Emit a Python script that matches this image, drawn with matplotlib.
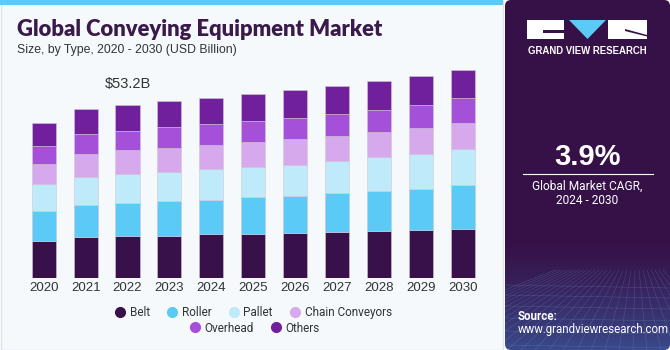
import numpy as np
import matplotlib
matplotlib.use("Agg")
from matplotlib import pyplot as plt
from matplotlib.patches import Rectangle, FancyBboxPatch, Polygon
from matplotlib.lines import Line2D

# data (USD Billion)
years = ['2020', '2021', '2022', '2023', '2024', '2025', '2026', '2027', '2028', '2029', '2030']
belt = [11.5, 12.8, 13.1, 13.1, 13.6, 13.6, 13.9, 14.2, 14.6, 14.8, 15.1]
roller = [9.3, 9.7, 10.1, 10.7, 10.5, 11.4, 11.5, 12.1, 12.2, 12.6, 13.5]
pallet = [8.0, 8.7, 8.8, 8.8, 9.4, 9.2, 9.5, 9.7, 10.4, 10.7, 11.0]
chain = [6.3, 7.1, 7.4, 7.3, 7.4, 7.6, 7.8, 7.7, 7.7, 7.9, 8.1]
overhead = [5.5, 6.1, 5.9, 6.5, 6.5, 6.5, 6.6, 6.8, 6.8, 7.2, 7.7]
others = [7.1, 7.6, 7.9, 7.9, 7.8, 8.2, 8.5, 8.5, 8.9, 8.8, 8.7]
series_names = ['Belt', 'Roller', 'Pallet', 'Chain Conveyors', 'Overhead', 'Others']
colors = ['#38104a', '#5ccaf6', '#bfeafa', '#d6a9ed', '#a550d8', '#70209c']
note_text = '$53.2B'
note_year = 2

fig = plt.figure(figsize=(6.7, 3.5), dpi=100)
fig.patch.set_facecolor('white')

# left panel background + top strip
bg = fig.add_axes([0, 0, 1, 1])
bg.set_xlim(0, 670)
bg.set_ylim(350, 0)
bg.axis('off')
bg.add_patch(Rectangle((0.5, 0.5), 502, 349, facecolor='#f5f9fc', edgecolor='#dde3ea', lw=1))
bg.add_patch(Rectangle((0, 0), 503, 5, facecolor='#5ccaf6', edgecolor='none'))

# main chart
ax = fig.add_axes([18.6 / 670, 0.2049, 469.2 / 670, 228 / 350])
ax.set_facecolor('none')
x = np.arange(len(years))
stack = [belt, roller, pallet, chain, overhead, others]
bottom = np.zeros(len(years))
for vals, name, c in zip(stack, series_names, colors):
    ax.bar(x, vals, width=0.575, bottom=bottom, color=c, label=name,
           edgecolor='#cfc6d8', linewidth=0.4)
    bottom += np.array(vals)
ax.text(x[note_year], bottom[note_year] + 4.2, note_text, ha='center', va='bottom',
        fontsize=10.5, color='#333333', family='Liberation Sans')
ax.set_xlim(-0.6, 10.6)
ax.set_ylim(0, 70)
ax.set_xticks(x)
ax.set_xticklabels(years, fontsize=9.5, color='#333333', family='Liberation Sans')
ax.tick_params(axis='x', length=0, pad=3)
ax.set_yticks([])
for s in ax.spines.values():
    s.set_visible(False)

# titles
fig.text(17 / 670, 1 - 29 / 350, 'Global Conveying Equipment Market', fontsize=15.8,
         fontweight='heavy', color='#3a1a4a', family='Lato', va='center')
fig.text(17 / 670, 1 - 50 / 350, 'Size, by Type, 2020 - 2030 (USD Billion)', fontsize=8.8,
         color='#333333', family='Liberation Sans', va='center')

# legend, two centred rows
handles = [Line2D([], [], marker='o', ls='none', color=c, markersize=7) for c in colors]
lprop = {'family': 'Roboto', 'size': 8.5}
leg1 = fig.legend(handles[:4], series_names[:4], loc='center', ncol=4,
                  bbox_to_anchor=(252 / 670, 1 - 312.5 / 350), frameon=False,
                  handletextpad=0.1, columnspacing=1.2, handlelength=1.4, prop=lprop)
leg2 = fig.legend(handles[4:], series_names[4:], loc='center', ncol=2,
                  bbox_to_anchor=(253 / 670, 1 - 328 / 350), frameon=False,
                  handletextpad=0.1, columnspacing=1.2, handlelength=1.4, prop=lprop)
for lg in (leg1, leg2):
    for t in lg.get_texts():
        t.set_color('#333333')

# right panel
rp = fig.add_axes([505 / 670, 0, 165 / 670, 1])
rp.set_xlim(0, 165)
rp.set_ylim(350, 0)
rp.axis('off')
grad = np.ones((350, 1, 3))
top_c = np.array([0x36, 0x11, 0x47]) / 255
bot_c = np.array([0x3a, 0x4a, 0x8c]) / 255
for i in range(350):
    t = max(0, (i - 240) / 110) ** 1.3
    grad[i, 0] = top_c * (1 - t) + bot_c * t
img = rp.imshow(grad, extent=(0, 165, 350, 0), aspect='auto', zorder=0)
clip = FancyBboxPatch((0, 0), 165, 350, boxstyle='round,pad=0,rounding_size=6',
                      transform=rp.transData, facecolor='none', edgecolor='none')
rp.add_patch(clip)
img.set_clip_path(clip)
# faint mesh at the bottom
for k in range(-8, 20):
    ln, = rp.plot([82 + k * 4, k * 14 - 40], [270, 350], color='#7fb6e6', lw=0.4, alpha=0.25)
    ln.set_clip_path(clip)
for yy in [285, 295, 306, 318, 331, 345]:
    ln, = rp.plot([0, 165], [yy, yy + 3], color='#7fb6e6', lw=0.4, alpha=0.25)
    ln.set_clip_path(clip)

# logo
rp.add_patch(Rectangle((22, 20), 36.5, 19, facecolor='white', edgecolor='none'))
rp.add_patch(Rectangle((38, 30), 20.5, 3, facecolor='#361147', edgecolor='none'))
rp.add_patch(Polygon([(64, 20), (101, 20), (82.5, 39)], closed=True, facecolor='#5ccaf6', edgecolor='none'))
rp.add_patch(Rectangle((103, 20), 39, 19, facecolor='white', edgecolor='none'))
rp.add_patch(Polygon([(120, 29), (142, 35), (142, 36.5), (120, 31)], closed=True, facecolor='#361147', edgecolor='none'))
rp.text(82.5, 51, 'GRAND VIEW RESEARCH', ha='center', va='center', color='white',
        fontsize=6.9, fontweight='bold', family='Liberation Sans')

rp.text(82.5, 157, '3.9%', ha='center', va='center', color='white', fontsize=21,
        fontweight='bold', family='Liberation Sans')
rp.plot([18, 147.5], [173.5, 173.5], color='white', lw=0.8)
rp.text(82.5, 186, 'Global Market CAGR,', ha='center', va='center', color='white',
        fontsize=8.6, family='Roboto')
rp.text(82.5, 201, '2024 - 2030', ha='center', va='center', color='white',
        fontsize=8.6, family='Roboto')
rp.text(13, 316, 'Source:', ha='left', va='center', color='white', fontsize=8.3,
        fontweight='bold', family='Roboto')
rp.text(13, 330, 'www.grandviewresearch.com', ha='left', va='center', color='white',
        fontsize=8.3, family='Roboto')

fig.savefig('out.png', dpi=100)
